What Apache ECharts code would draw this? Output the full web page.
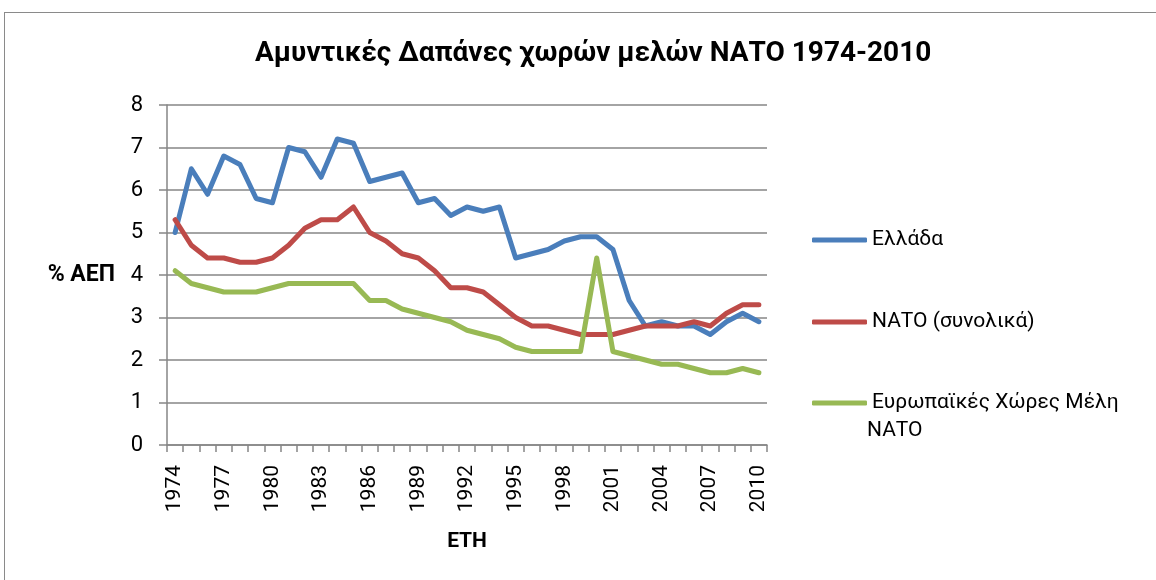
<!DOCTYPE html>
<html>
<head>
<meta charset="utf-8">
<script src="https://cdn.jsdelivr.net/npm/echarts@6/dist/echarts.min.js"></script>
<style>
  html, body { margin: 0; padding: 0; background: #fff; overflow: hidden; }
  #frame { position: absolute; left: 4px; top: 12px; width: 1300px; height: 700px; border: 1.5px solid #8a8a8a; }
  #chart { position: absolute; left: 0; top: 0; width: 1156px; height: 580px; }
</style>
</head>
<body>
<div id="frame"></div>
<div id="chart"></div>
<script>
const FONT = 'Roboto, "Noto Sans", sans-serif';
const TEXT = '#000';
const GRID_GRAY = '#868686';

const TITLE = 'Αμυντικές Δαπάνες χωρών μελών ΝΑΤΟ 1974-2010';
const Y_NAME = '% ΑΕΠ';
const X_NAME = 'ΕΤΗ';

const years = [];
for (let y = 1974; y <= 2010; y++) years.push(String(y));

const greece = [5.0, 6.5, 5.9, 6.8, 6.6, 5.8, 5.7, 7.0, 6.9, 6.3, 7.2, 7.1, 6.2, 6.3, 6.4, 5.7, 5.8, 5.4, 5.6,
  5.5, 5.6, 4.4, 4.5, 4.6, 4.8, 4.9, 4.9, 4.6, 3.4, 2.8, 2.9, 2.8, 2.8, 2.6, 2.9, 3.1, 2.9];
const natoTotal = [5.3, 4.7, 4.4, 4.4, 4.3, 4.3, 4.4, 4.7, 5.1, 5.3, 5.3, 5.6, 5.0, 4.8, 4.5, 4.4, 4.1, 3.7, 3.7,
  3.6, 3.3, 3.0, 2.8, 2.8, 2.7, 2.6, 2.6, 2.6, 2.7, 2.8, 2.8, 2.8, 2.9, 2.8, 3.1, 3.3, 3.3];
const europeNato = [4.1, 3.8, 3.7, 3.6, 3.6, 3.6, 3.7, 3.8, 3.8, 3.8, 3.8, 3.8, 3.4, 3.4, 3.2, 3.1, 3.0, 2.9, 2.7,
  2.6, 2.5, 2.3, 2.2, 2.2, 2.2, 2.2, 4.4, 2.2, 2.1, 2.0, 1.9, 1.9, 1.8, 1.7, 1.7, 1.8, 1.7];

const SERIES = [
  { name: 'Ελλάδα', values: greece, color: '#4a7ebb' },
  { name: 'ΝΑΤΟ (συνολικά)', values: natoTotal, color: '#be4b48' },
  { name: 'Ευρωπαϊκές Χώρες Μέλη ΝΑΤΟ', values: europeNato, color: '#98b954' },
];
const LEGEND_TOP = [220, 302, 383];

const chart = echarts.init(document.getElementById('chart'), null, { renderer: 'canvas' });

chart.setOption({
  animation: false,
  textStyle: { fontFamily: FONT, color: TEXT },
  title: {
    text: TITLE,
    left: 250, top: 35,
    textStyle: { fontFamily: FONT, fontSize: 28, fontWeight: 'bold', color: TEXT },
  },
  grid: { left: 167, right: 389, top: 105, bottom: 135, containLabel: false },
  legend: SERIES.map((s, i) => ({
    data: [s.name],
    orient: 'vertical',
    left: 807, top: LEGEND_TOP[i],
    icon: 'roundRect',
    itemWidth: 55, itemHeight: 5,
    selectedMode: false,
    align: 'left',
    // the long label wraps in the original: first line beside the key, rest below
    formatter: name => name === 'Ευρωπαϊκές Χώρες Μέλη ΝΑΤΟ' ? 'Ευρωπαϊκές Χώρες Μέλη' : name,
    textStyle: { fontFamily: FONT, fontSize: 21, color: TEXT, lineHeight: 30 },
  })),
  graphic: [{
    type: 'text',
    left: 867, top: 420,
    style: { text: 'ΝΑΤΟ', font: '21px ' + FONT, fill: TEXT },
  }],
  xAxis: {
    type: 'category',
    data: years,
    boundaryGap: true,
    name: X_NAME,
    nameLocation: 'middle',
    nameGap: 86,
    nameTextStyle: { fontFamily: FONT, fontSize: 21, fontWeight: 'bold', color: TEXT },
    axisLine: { lineStyle: { color: GRID_GRAY, width: 1.5 } },
    axisTick: { show: true, interval: 0, length: 7, lineStyle: { color: GRID_GRAY, width: 1.5 } },
    axisLabel: { interval: 2, rotate: 90, fontFamily: FONT, fontSize: 21, color: TEXT, margin: 20 },
  },
  yAxis: {
    type: 'value',
    min: 0, max: 8, interval: 1,
    name: Y_NAME,
    nameLocation: 'middle',
    nameRotate: 0,
    nameGap: 52,
    nameTextStyle: { fontFamily: FONT, fontSize: 23, fontWeight: 'bold', color: TEXT },
    axisLine: { show: true, lineStyle: { color: GRID_GRAY, width: 1.5 } },
    axisTick: { show: true, length: 8, lineStyle: { color: GRID_GRAY, width: 1.5 } },
    axisLabel: { fontFamily: FONT, fontSize: 22, color: TEXT, margin: 24 },
    splitLine: { lineStyle: { color: GRID_GRAY, width: 1.5 } },
  },
  series: SERIES.map(s => ({
    name: s.name,
    type: 'line',
    data: s.values,
    showSymbol: false,
    symbol: 'none',
    lineStyle: { color: s.color, width: 5, cap: 'round', join: 'round' },
    itemStyle: { color: s.color },
  })),
});
</script>
</body>
</html>
